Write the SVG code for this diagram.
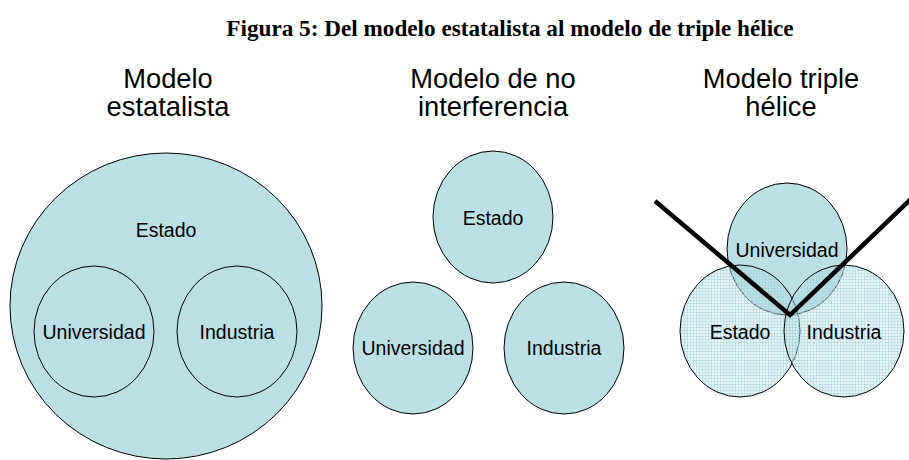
<svg xmlns="http://www.w3.org/2000/svg" width="909" height="460" viewBox="0 0 909 460">
<style>
.title{font-family:"Liberation Serif","Times New Roman",serif;font-weight:bold;font-size:23.2px;fill:#000}
.hdr{font-family:"Liberation Sans",Arial,sans-serif;font-size:27.3px;fill:#000}
.lbl{font-family:"Liberation Sans",Arial,sans-serif;font-size:19.5px;fill:#000}
.c{stroke:#000;stroke-width:1}
.solid{fill:#BBE0E3}
.hatch{fill:url(#grid)}
.v{fill:none;stroke:#000;stroke-width:4.5;stroke-linejoin:miter}
</style>
<defs>
<pattern id="grid" width="3" height="3" patternUnits="userSpaceOnUse">
<rect width="3" height="3" fill="#BBE0E3" fill-opacity="0.35"/>
<path d="M0 0.5H3M0.5 0V3" stroke="#9FD2D8" stroke-width="0.8" stroke-opacity="0.6" fill="none"/>
</pattern>
</defs>
<rect width="909" height="460" fill="#fff"/>
<text class="title" x="510" y="36" text-anchor="middle">Figura 5: Del modelo estatalista al modelo de triple hélice</text>
<g id="headers">
<text class="hdr" x="168" y="88" text-anchor="middle">Modelo</text>
<text class="hdr" x="168" y="116" text-anchor="middle">estatalista</text>
<text class="hdr" x="493" y="88" text-anchor="middle">Modelo de no</text>
<text class="hdr" x="493" y="116" text-anchor="middle">interferencia</text>
<text class="hdr" x="781" y="88" text-anchor="middle">Modelo triple</text>
<text class="hdr" x="781" y="116" text-anchor="middle">hélice</text>
</g>
<g id="m1-estado">
<ellipse class="c solid" cx="166" cy="306" rx="156" ry="153"/>
<text class="lbl" x="166" y="237" text-anchor="middle">Estado</text>
</g>
<g id="m1-universidad">
<ellipse class="c solid" cx="94" cy="331.5" rx="60" ry="65.5"/>
<text class="lbl" x="94" y="339" text-anchor="middle">Universidad</text>
</g>
<g id="m1-industria">
<ellipse class="c solid" cx="237" cy="331.5" rx="60" ry="65.5"/>
<text class="lbl" x="237" y="339" text-anchor="middle">Industria</text>
</g>
<g id="m2-estado">
<ellipse class="c solid" cx="493" cy="217" rx="60" ry="66"/>
<text class="lbl" x="493" y="225" text-anchor="middle">Estado</text>
</g>
<g id="m2-universidad">
<ellipse class="c solid" cx="413" cy="348" rx="60" ry="66"/>
<text class="lbl" x="413" y="355" text-anchor="middle">Universidad</text>
</g>
<g id="m2-industria">
<ellipse class="c solid" cx="564" cy="348" rx="60" ry="66"/>
<text class="lbl" x="564" y="355" text-anchor="middle">Industria</text>
</g>
<g id="m3-universidad">
<ellipse class="c solid" cx="787" cy="249" rx="60" ry="66"/>
<text class="lbl" x="787" y="257" text-anchor="middle">Universidad</text>
</g>
<g id="m3-estado">
<ellipse class="c hatch" cx="740" cy="331" rx="60" ry="66"/>
<text class="lbl" x="740" y="339" text-anchor="middle">Estado</text>
</g>
<g id="m3-industria">
<ellipse class="c hatch" cx="844" cy="331" rx="60" ry="66"/>
<text class="lbl" x="844" y="339" text-anchor="middle">Industria</text>
</g>
<g id="connectors">
<polyline class="v" points="655,201 790,315 911,199"/>
</g>
</svg>
